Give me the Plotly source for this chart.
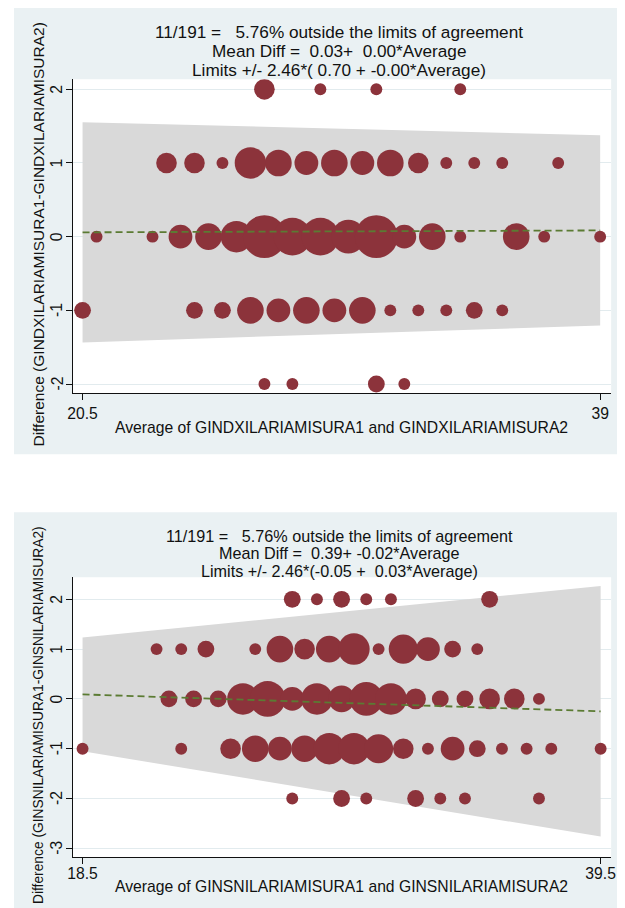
import plotly.graph_objects as go

# Window pixel (X, Y) of the reference is mapped onto the figure: the page body
# adds an 8px margin, and the captured picture shows x slightly compressed.
OFF = 8
WIN_W, WIN_H = 625, 908
W, H = WIN_W - OFF, WIN_H - OFF
XS, XO = 0.982, 6.1   # observed horizontal capture scale / offset
FONT = "Liberation Sans, Arial, sans-serif"

# ---------------- Panel 1 data (GINDXILARIAMISURA) ----------------
p1_avg = [27, 29, 31, 34,
          23.5, 24.5, 25.5, 26.5, 27.5, 28.5, 29.5, 30.5, 31.5, 32.5, 33.5, 34.5, 35.5, 37.5,
          21, 23, 24, 25, 26, 27, 28, 29, 30, 31, 32, 33, 34, 36, 37, 39,
          20.5, 24.5, 25.5, 26.5, 27.5, 28.5, 29.5, 30.5, 31.5, 32.5, 33.5, 34.5, 35.5,
          27, 28, 31, 32]
p1_diff = [2, 2, 2, 2,
           1, 1, 1, 1, 1, 1, 1, 1, 1, 1, 1, 1, 1, 1,
           0, 0, 0, 0, 0, 0, 0, 0, 0, 0, 0, 0, 0, 0, 0, 0,
           -1, -1, -1, -1, -1, -1, -1, -1, -1, -1, -1, -1, -1,
           -2, -2, -2, -2]
p1_count = [3, 1, 1, 1,
            3, 3, 1, 7, 5, 4, 5, 4, 5, 3, 1, 1, 1, 1,
            1, 1, 4, 5, 7, 13, 10, 10, 8, 13, 4, 5, 1, 5, 1, 1,
            2, 2, 2, 5, 4, 5, 4, 5, 1, 1, 1, 2, 1,
            1, 1, 2, 1]
p1_mean_coef = [0.03, 0.0014]      # mean diff = a + b*Average
p1_limit_coef = [0.70, -0.0045]    # sd = a + b*Average
p1_xticks = [20.5, 39]
p1_yticks = [-2, -1, 0, 1, 2]
p1_title = ["11/191 =\u00a0\u00a0 5.76% outside the limits of agreement",
            "Mean Diff =\u00a0 0.03+\u00a0 0.00*Average",
            "Limits +/- 2.46*( 0.70 + -0.00*Average)"]
p1_xtitle = "Average of GINDXILARIAMISURA1 and GINDXILARIAMISURA2"
p1_ytitle = "Difference (GINDXILARIAMISURA1-GINDXILARIAMISURA2)"

# ---------------- Panel 2 data (GINSNILARIAMISURA) ----------------
p2_avg = [27, 28, 29, 30, 31, 35,
          21.5, 22.5, 23.5, 25.5, 26.5, 27.5, 28.5, 29.5, 30.5, 31.5, 32.5, 33.5, 34.5,
          22, 23, 24, 25, 26, 27, 28, 29, 30, 31, 32, 33, 34, 35, 36, 37,
          18.5, 22.5, 24.5, 25.5, 26.5, 27.5, 28.5, 29.5, 30.5, 31.5, 32.5, 33.5, 34.5, 35.5, 36.5, 37.5, 39.5,
          27, 29, 30, 32, 33, 34, 37]
p2_diff = [2, 2, 2, 2, 2, 2,
           1, 1, 1, 1, 1, 1, 1, 1, 1, 1, 1, 1, 1,
           0, 0, 0, 0, 0, 0, 0, 0, 0, 0, 0, 0, 0, 0, 0, 0,
           -1, -1, -1, -1, -1, -1, -1, -1, -1, -1, -1, -1, -1, -1, -1, -1, -1,
           -2, -2, -2, -2, -2, -2, -2]
p2_count = [2, 1, 2, 1, 1, 2,
            1, 1, 2, 1, 5, 3, 5, 7, 1, 6, 4, 2, 1,
            2, 2, 2, 7, 9, 4, 7, 5, 8, 7, 3, 2, 2, 3, 3, 1,
            1, 1, 3, 5, 4, 5, 7, 7, 6, 3, 1, 4, 2, 1, 1, 1, 1,
            1, 2, 1, 2, 1, 1, 1]
p2_mean_coef = [0.39, -0.0162]
p2_limit_coef = [-0.028, 0.0266]
p2_xticks = [18.5, 39.5]
p2_yticks = [-3, -2, -1, 0, 1, 2]
p2_title = ["11/191 =\u00a0\u00a0 5.76% outside the limits of agreement",
            "Mean Diff =\u00a0 0.39+ -0.02*Average",
            "Limits +/- 2.46*(-0.05 +\u00a0 0.03*Average)"]
p2_xtitle = "Average of GINSNILARIAMISURA1 and GINSNILARIAMISURA2"
p2_ytitle = "Difference (GINSNILARIAMISURA1-GINSNILARIAMISURA2)"

Z = 2.46

# ---------------- styles ----------------
BUBBLE = "#8C333B"
BAND = "#D9D9D9"
MEANLINE = "#5B7B33"
PANEL_BG = "#EAF1F3"
GRID = "#E2EBEE"
TXT = "#111111"
D1 = 11.9  # diameter (px) of a single-observation bubble
SIZEREF = 2.0 / (D1 ** 2)


def fx(X):
    """reference pixel x -> paper fraction"""
    xw = (X - XO) / XS
    return min(max((xw - OFF) / W, 0), 1)


def fy(Y):
    """reference pixel y -> paper fraction"""
    return min(max(1 - (Y - OFF) / H, 0), 1)


fig = go.Figure()


def add_panel(avg, diff, count, mean_coef, lim_coef, xa, ya):
    xmin, xmax = min(avg), max(avg)
    xs = [xmin, xmax]
    mean = [mean_coef[0] + mean_coef[1] * x for x in xs]
    half = [Z * (lim_coef[0] + lim_coef[1] * x) for x in xs]
    upper = [m + h for m, h in zip(mean, half)]
    lower = [m - h for m, h in zip(mean, half)]
    fig.add_trace(go.Scatter(
        x=[xs[0], xs[1], xs[1], xs[0], xs[0]],
        y=[upper[0], upper[1], lower[1], lower[0], upper[0]],
        mode="lines", fill="toself", fillcolor=BAND,
        line=dict(width=0, color=BAND), hoverinfo="skip",
        showlegend=False, xaxis=xa, yaxis=ya))
    fig.add_trace(go.Scatter(
        x=avg, y=diff, mode="markers",
        marker=dict(size=count, sizemode="area", sizeref=SIZEREF,
                    color=BUBBLE, opacity=1, line=dict(width=0)),
        showlegend=False, xaxis=xa, yaxis=ya))
    fig.add_trace(go.Scatter(
        x=xs, y=mean, mode="lines",
        line=dict(color=MEANLINE, width=1.8, dash="7px,4px"),
        showlegend=False, xaxis=xa, yaxis=ya))


add_panel(p1_avg, p1_diff, p1_count, p1_mean_coef, p1_limit_coef, "x", "y")
add_panel(p2_avg, p2_diff, p2_count, p2_mean_coef, p2_limit_coef, "x2", "y2")

# plot-area boxes in reference pixels
P1 = dict(l=73, r=611, t=79.3, b=393)
P2 = dict(l=73, r=611, t=577.3, b=857.3)

axis_common = dict(showline=True, linecolor=TXT, linewidth=1,
                   ticks="outside", ticklen=6, tickwidth=1, tickcolor=TXT,
                   zeroline=False,
                   tickfont=dict(family=FONT, size=15.7, color=TXT))

fig.update_layout(
    width=W, height=H,
    margin=dict(l=0, r=0, t=0, b=0),
    paper_bgcolor="white", plot_bgcolor="white",
    showlegend=False,
    xaxis=dict(domain=[fx(P1["l"]), fx(P1["r"])], range=[20.16, 39.393],
               tickvals=p1_xticks, showgrid=False, anchor="y", **axis_common),
    yaxis=dict(domain=[fy(P1["b"]), fy(P1["t"])], range=[-2.122, 2.136],
               tickvals=p1_yticks, showticklabels=False, showgrid=True,
               gridcolor=GRID, gridwidth=1, anchor="x", **axis_common),
    xaxis2=dict(domain=[fx(P2["l"]), fx(P2["r"])], range=[18.115, 39.926],
                tickvals=p2_xticks, showgrid=False, anchor="y2",
                ticklabelstandoff=-4, **axis_common),
    yaxis2=dict(domain=[fy(P2["b"]), fy(P2["t"])], range=[-3.181, 2.442],
                tickvals=p2_yticks, showticklabels=False, showgrid=True,
                gridcolor=GRID, gridwidth=1, anchor="x2", **axis_common),
)

shapes = []
# panel backgrounds
for top, bot in [(7.3, 454.3), (512.3, 908)]:
    shapes.append(dict(type="rect", xref="paper", yref="paper", layer="below",
                       x0=fx(12), x1=fx(625), y0=fy(bot), y1=fy(top),
                       fillcolor=PANEL_BG, line=dict(width=0)))
# white plot areas
for P in (P1, P2):
    shapes.append(dict(type="rect", xref="paper", yref="paper", layer="below",
                       x0=fx(P["l"]), x1=fx(P["r"]), y0=fy(P["b"]), y1=fy(P["t"]),
                       fillcolor="white", line=dict(width=0)))
fig.update_layout(shapes=shapes)

ann = []
# rotated y tick labels, placed through each subplot's y scale
for ticks, yref in [(p1_yticks, "y"), (p2_yticks, "y2")]:
    for v in ticks:
        ann.append(dict(text=str(v), xref="paper", yref=yref, x=fx(56.5), y=v,
                        xanchor="center", yanchor="middle", showarrow=False,
                        textangle=-90,
                        font=dict(family=FONT, size=15.7, color=TXT)))
for lines, ys, fs in [(p1_title, [32.0, 51.0, 70.0], 17.2),
                      (p2_title, [535.8, 553.4, 571.0], 16.2)]:
    for txt, yy in zip(lines, ys):
        ann.append(dict(text=txt, xref="paper", yref="paper", x=fx(339), y=fy(yy),
                        xanchor="center", yanchor="middle", showarrow=False,
                        font=dict(family=FONT, size=fs, color=TXT)))
ann.append(dict(text=p1_xtitle, xref="paper", yref="paper", x=fx(341), y=fy(427.3),
                xanchor="center", yanchor="middle", showarrow=False,
                font=dict(family=FONT, size=15.7, color=TXT)))
ann.append(dict(text=p2_xtitle, xref="paper", yref="paper", x=fx(341), y=fy(886.7),
                xanchor="center", yanchor="middle", showarrow=False,
                font=dict(family=FONT, size=15.7, color=TXT)))
ann.append(dict(text=p1_ytitle, xref="paper", yref="paper", x=fx(38), y=fy(234.5),
                xanchor="center", yanchor="middle", showarrow=False, textangle=-90,
                font=dict(family=FONT, size=15.5, color=TXT)))
ann.append(dict(text=p2_ytitle, xref="paper", yref="paper", x=fx(38), y=fy(715),
                xanchor="center", yanchor="middle", showarrow=False, textangle=-90,
                font=dict(family=FONT, size=13.8, color=TXT)))
fig.update_layout(annotations=ann)

fig.write_html("out.html")
